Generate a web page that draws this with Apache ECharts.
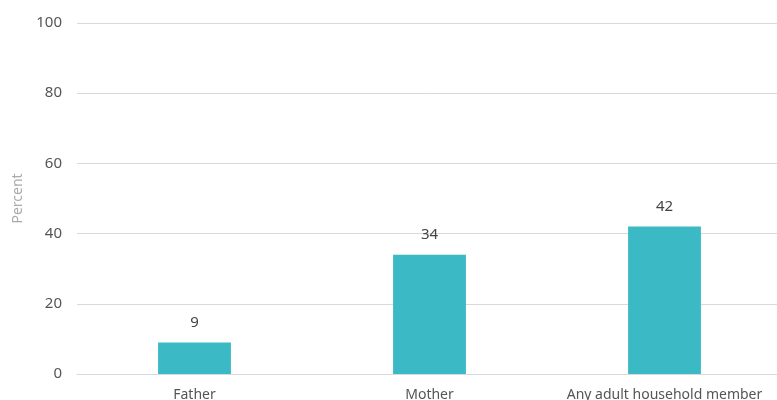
<!DOCTYPE html>
<html><head><meta charset="utf-8">
<script src="https://cdn.jsdelivr.net/npm/echarts@6/dist/echarts.min.js"></script>
<style>html,body{margin:0;padding:0;background:#fff}#c{width:777px;height:400px}</style>
</head><body><div id="c"></div>
<script>
var categories = ["Father", "Mother", "Any adult household member"];
var values = [9, 34, 42];
var yTicks = [0, 20, 40, 60, 80, 100];

var chart = echarts.init(document.getElementById('c'), null, {renderer: 'canvas'});
var font = "'Noto Sans', sans-serif";
chart.setOption({
  animation: false,
  grid: {left: 77, width: 705, top: 23, height: 351, containLabel: false, outerBoundsMode: 'none'},
  xAxis: {
    type: 'category',
    data: categories,
    axisLine: {show: true, lineStyle: {color: '#d9d9d9', width: 1}},
    axisTick: {show: false},
    axisLabel: {color: '#555', fontSize: 14, fontFamily: font, margin: 14, interval: 0}
  },
  yAxis: {
    type: 'value',
    min: yTicks[0], max: yTicks[yTicks.length - 1], interval: 20,
    name: 'Percent',
    nameLocation: 'middle',
    nameGap: 49,
    nameTextStyle: {color: '#aaa', fontSize: 14, fontFamily: font},
    axisLine: {show: false},
    axisTick: {show: false},
    axisLabel: {color: '#555', fontSize: 15, fontFamily: font, margin: 15},
    splitLine: {lineStyle: {color: '#d9d9d9', width: 1}}
  },
  series: [{
    type: 'bar',
    data: values,
    barWidth: '31%',
    itemStyle: {color: '#3BBAC6'},
    label: {show: true, position: 'top', distance: 12, color: '#444', fontSize: 15, fontFamily: font}
  }]
});
</script></body></html>
